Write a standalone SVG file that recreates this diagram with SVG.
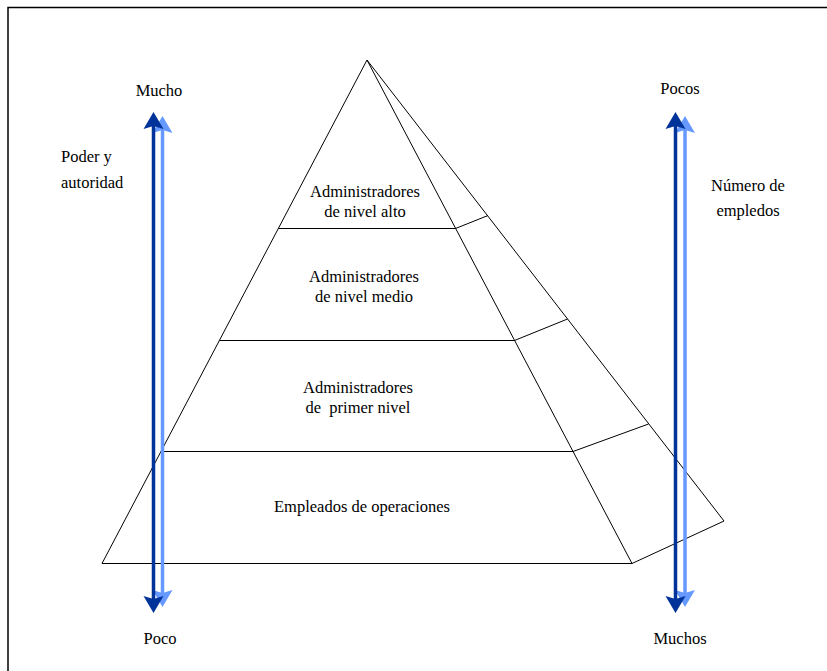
<svg xmlns="http://www.w3.org/2000/svg" width="827" height="671" viewBox="0 0 827 671" font-family="Liberation Serif, Times New Roman, serif">
<style>
.ln{fill:none;stroke:#000;stroke-width:1}
.t{font-size:16.5px;fill:#000}
.c{text-anchor:middle}
.dk{stroke:#003399;stroke-width:3.5}
.lt{stroke:#6699ff;stroke-width:3.5}
</style>
<defs>
<polygon id="hd" points="0,0 -10,17 0,14 10,17"/>
</defs>
<rect x="0" y="0" width="827" height="671" fill="#fff"/>
<path d="M8 671 V7.5 H827" fill="none" stroke="#000" stroke-width="1.5"/>
<g id="pyramid">
<polygon class="ln" points="367,60 102,563.5 632,563.5"/>
<polyline class="ln" points="367,60 724,521 632,563.5"/>
</g>
<g id="level1" font-family="Liberation Serif, serif">
<line class="ln" x1="278.5" y1="228.5" x2="455.5" y2="228.5"/>
<line class="ln" x1="455.5" y1="228.5" x2="488" y2="215.5"/>
<text class="t c" x="365" y="197">Administradores</text>
<text class="t c" x="365" y="217">de nivel alto</text>
</g>
<g id="level2" font-family="Liberation Serif, serif">
<line class="ln" x1="219.5" y1="340.5" x2="514.5" y2="340.5"/>
<line class="ln" x1="514.5" y1="340.5" x2="567.5" y2="319"/>
<text class="t c" x="364" y="282">Administradores</text>
<text class="t c" x="364" y="302">de nivel medio</text>
</g>
<g id="level3" font-family="Liberation Serif, serif">
<line class="ln" x1="161" y1="451.5" x2="573" y2="451.5"/>
<line class="ln" x1="573" y1="451.5" x2="648.5" y2="424"/>
<text class="t c" x="358" y="393">Administradores</text>
<text class="t c" x="358" y="413" xml:space="preserve">de  primer nivel</text>
</g>
<g id="level4" font-family="Liberation Serif, serif">
<text class="t c" x="362" y="512">Empleados de operaciones</text>
</g>
<g id="connectors">
<line class="lt" x1="162.5" y1="128" x2="162.5" y2="593"/>
<use href="#hd" fill="#6699ff" transform="translate(162.5,116)"/>
<use href="#hd" fill="#6699ff" transform="translate(162.5,607) rotate(180)"/>
<line class="dk" x1="153.5" y1="124" x2="153.5" y2="600"/>
<use href="#hd" fill="#003399" transform="translate(153.5,112)"/>
<use href="#hd" fill="#003399" transform="translate(153.5,613) rotate(180)"/>
<line class="lt" x1="685" y1="128" x2="685" y2="593"/>
<use href="#hd" fill="#6699ff" transform="translate(685,116)"/>
<use href="#hd" fill="#6699ff" transform="translate(685,607) rotate(180)"/>
<line class="dk" x1="675.5" y1="124" x2="675.5" y2="600"/>
<use href="#hd" fill="#003399" transform="translate(675.5,112)"/>
<use href="#hd" fill="#003399" transform="translate(675.5,613) rotate(180)"/>
</g>
<g id="labels" font-family="Liberation Serif, serif">
<text class="t c" x="159" y="96">Mucho</text>
<text class="t c" x="160" y="644">Poco</text>
<text class="t c" x="680" y="94">Pocos</text>
<text class="t c" x="680" y="644">Muchos</text>
<text class="t" x="61" y="162">Poder y</text>
<text class="t" x="61" y="188">autoridad</text>
<text class="t c" x="748" y="191">Número de</text>
<text class="t c" x="748" y="216">empledos</text>
</g>
</svg>
